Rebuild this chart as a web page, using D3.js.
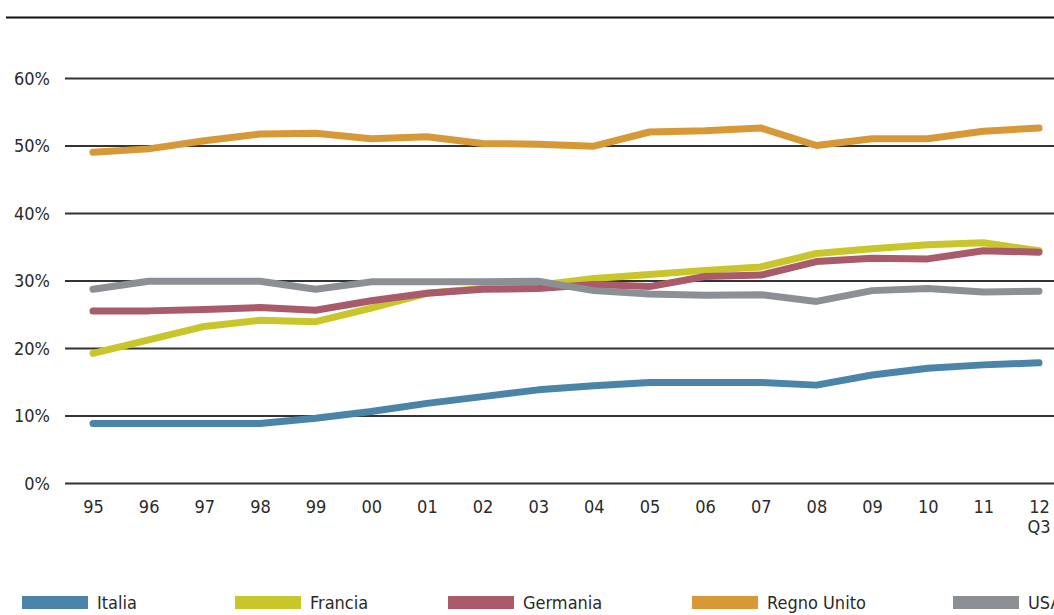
<!DOCTYPE html>
<html>
<head>
<meta charset="utf-8">
<script src="https://cdn.jsdelivr.net/npm/d3@7"></script>
<style>
  html, body { margin: 0; padding: 0; background: #fff; overflow: hidden; }
  svg { display: block; }
  text { font-family: "Liberation Sans Narrow", "DejaVu Sans Condensed", "Roboto Condensed", sans-serif; fill: #2b2b2b; }
</style>
</head>
<body>
<svg id="chart" width="1054" height="615"></svg>
<script>
// Years (two-digit labels) and the quarter note under the last one
const years = ["95","96","97","98","99","00","01","02","03","04","05","06","07","08","09","10","11","12"];
const lastSub = "Q3";
const yTicks = [0, 10, 20, 30, 40, 50, 60];

// Share values in percent, one array per country
const italia     = [8.8, 8.8, 8.8, 8.8, 9.6, 10.6, 11.8, 12.8, 13.8, 14.4, 14.9, 14.9, 14.9, 14.5, 16.0, 17.0, 17.5, 17.8];
const francia    = [19.2, 21.2, 23.2, 24.1, 23.9, 25.9, 28.1, 28.8, 29.3, 30.3, 30.9, 31.5, 32.0, 34.0, 34.7, 35.3, 35.6, 34.4];
const germania   = [25.5, 25.5, 25.7, 26.0, 25.6, 27.0, 28.1, 28.7, 28.8, 29.4, 29.1, 30.6, 30.8, 32.8, 33.3, 33.2, 34.4, 34.2];
const regnoUnito = [49.0, 49.5, 50.7, 51.7, 51.8, 51.0, 51.3, 50.3, 50.2, 49.9, 52.0, 52.2, 52.6, 50.0, 51.0, 51.0, 52.1, 52.6];
const usa        = [28.7, 29.9, 29.9, 29.9, 28.7, 29.8, 29.8, 29.8, 29.9, 28.5, 28.0, 27.8, 27.9, 26.9, 28.5, 28.8, 28.3, 28.4];

const seriesNames  = ["Italia", "Francia", "Germania", "Regno Unito", "USA"];
const seriesValues = [italia, francia, germania, regnoUnito, usa];
const seriesColors = ["#4a85a9", "#c9c62b", "#a95a6b", "#d79938", "#8c8f94"];

const svg = d3.select("#chart");

const x = d3.scalePoint().domain(years).range([93, 1039]);
const y = d3.scaleLinear().domain([0, 60]).range([483, 78]);

// Top rule
svg.append("line")
  .attr("x1", 6).attr("x2", 1054)
  .attr("y1", 17.5).attr("y2", 17.5)
  .attr("stroke", "#111").attr("stroke-width", 2);

// Horizontal gridlines with percentage labels
const yAxis = d3.axisLeft(y)
  .tickValues(yTicks)
  .tickSize(-(1054 - 65))
  .tickPadding(15)
  .tickFormat(d => d + "%");

const gy = svg.append("g")
  .attr("transform", "translate(65,0)")
  .call(yAxis);
gy.select(".domain").remove();
gy.selectAll(".tick line").attr("stroke", "#333").attr("stroke-width", 2);
gy.selectAll(".tick text")
  .attr("font-size", 18)
  .attr("x", -15)
  .attr("dy", "0.35em")
  .style("fill", "#2b2b2b");

// Year labels along the bottom
const xAxis = d3.axisBottom(x).tickSize(0).tickPadding(0);
const gx = svg.append("g")
  .attr("transform", "translate(0,500)")
  .call(xAxis);
gx.select(".domain").remove();
gx.selectAll(".tick text")
  .attr("font-size", 18)
  .attr("dy", "0.71em")
  .style("fill", "#2b2b2b");

svg.append("text")
  .attr("x", x(years[years.length - 1]))
  .attr("y", 533)
  .attr("text-anchor", "middle")
  .attr("font-size", 18)
  .text(lastSub);

// Country lines
const line = d3.line()
  .x((d, i) => x(years[i]))
  .y(d => y(d));

svg.append("g")
  .selectAll("path")
  .data(seriesValues)
  .join("path")
  .attr("d", d => line(d))
  .attr("fill", "none")
  .attr("stroke", (d, i) => seriesColors[i])
  .attr("stroke-width", 7)
  .attr("stroke-linejoin", "round")
  .attr("stroke-linecap", "round");

// Legend along the bottom edge
const legendX = [22, 235, 448, 692, 953];
const legend = svg.append("g")
  .selectAll("g")
  .data(seriesNames)
  .join("g")
  .attr("transform", (d, i) => `translate(${legendX[i]},596)`);

legend.append("rect")
  .attr("width", 66).attr("height", 13)
  .attr("fill", (d, i) => seriesColors[i]);

legend.append("text")
  .attr("x", 75)
  .attr("y", 13)
  .attr("font-size", 18)
  .text(d => d);
</script>
</body>
</html>
